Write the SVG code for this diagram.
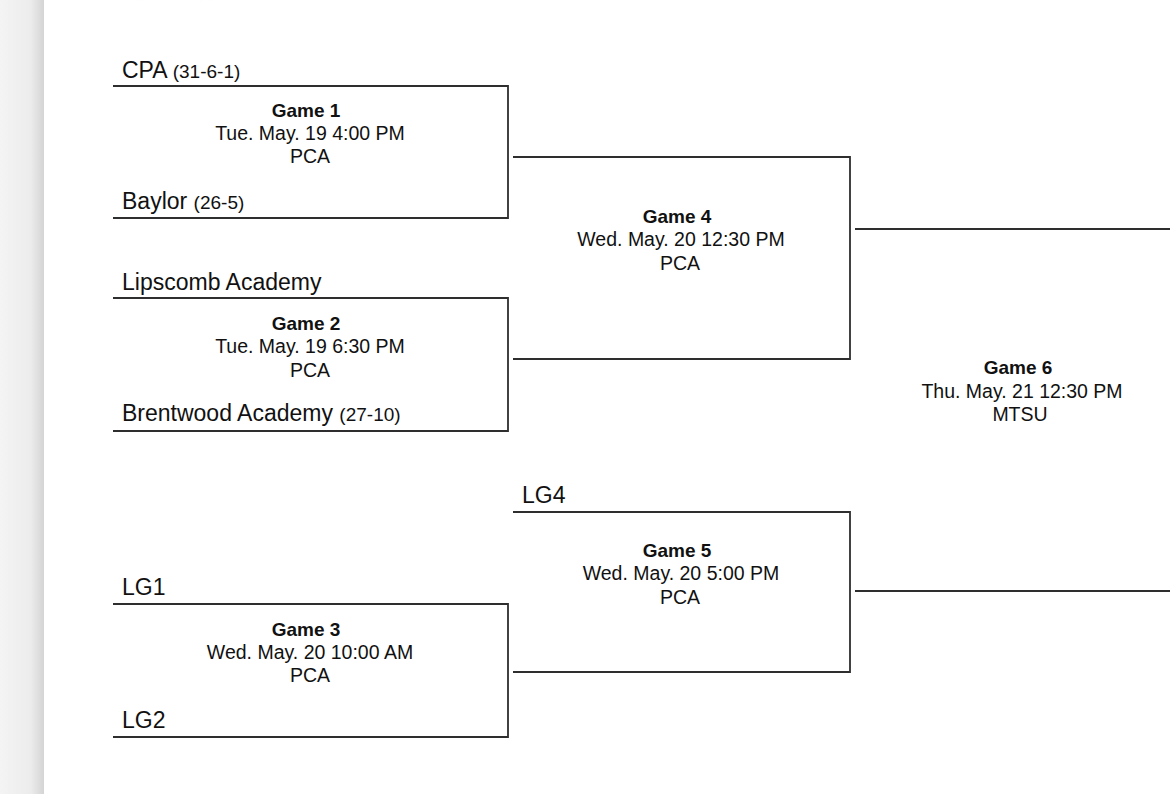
<svg xmlns="http://www.w3.org/2000/svg" width="1170" height="794" viewBox="0 0 1170 794">
<defs>
<linearGradient id="shadow" x1="0" y1="0" x2="1" y2="0">
<stop offset="0" stop-color="#f4f4f4"/>
<stop offset="0.7" stop-color="#ececec"/>
<stop offset="1" stop-color="#d4d4d4"/>
</linearGradient>
<radialGradient id="blob" cx="0.5" cy="0" r="0.6">
<stop offset="0" stop-color="#f2f2f2"/>
<stop offset="1" stop-color="#ffffff" stop-opacity="0"/>
</radialGradient>
</defs>
<style>
.ln{fill:none;stroke:#2e2e2e;stroke-width:1.8}
.team{font-family:"Liberation Sans",Arial,sans-serif;font-size:23px;fill:#111}
.rec{font-size:19px}
.g{font-family:"Liberation Sans",Arial,sans-serif;font-size:19.5px;fill:#111;text-anchor:middle}
.gb{font-weight:bold;font-size:19px}
</style>
<rect width="1170" height="794" fill="#ffffff"/>
<rect x="0" y="0" width="44" height="794" fill="url(#shadow)"/>
<ellipse cx="170" cy="0" rx="140" ry="45" fill="url(#blob)"/>
<g id="connectors">
<path class="ln" d="M113,86 H508 V218 H113"/>
<path class="ln" d="M113,298 H508 V431 H113"/>
<path class="ln" d="M113,604 H508 V737 H113"/>
<path class="ln" d="M513,157 H850 V359 H513"/>
<path class="ln" d="M513,512 H850 V672 H513"/>
<path class="ln" d="M855,229 H1170"/>
<path class="ln" d="M855,591 H1170"/>
</g>
<g id="team-cpa"><text class="team" x="122" y="78">CPA <tspan class="rec">(31-6-1)</tspan></text></g>
<g id="team-baylor"><text class="team" x="122" y="209">Baylor <tspan class="rec">(26-5)</tspan></text></g>
<g id="team-lipscomb"><text class="team" x="122" y="290">Lipscomb Academy</text></g>
<g id="team-brentwood"><text class="team" x="122" y="421">Brentwood Academy <tspan class="rec">(27-10)</tspan></text></g>
<g id="team-lg1"><text class="team" x="122" y="595">LG1</text></g>
<g id="team-lg2"><text class="team" x="122" y="728">LG2</text></g>
<g id="team-lg4"><text class="team" x="522" y="503">LG4</text></g>
<g id="game1">
<text class="g gb" x="306" y="117">Game 1</text>
<text class="g" x="310" y="140">Tue. May. 19 4:00 PM</text>
<text class="g" x="310" y="163">PCA</text>
</g>
<g id="game2">
<text class="g gb" x="306" y="330">Game 2</text>
<text class="g" x="310" y="353">Tue. May. 19 6:30 PM</text>
<text class="g" x="310" y="377">PCA</text>
</g>
<g id="game3">
<text class="g gb" x="306" y="636">Game 3</text>
<text class="g" x="310" y="659">Wed. May. 20 10:00 AM</text>
<text class="g" x="310" y="682">PCA</text>
</g>
<g id="game4">
<text class="g gb" x="677" y="223">Game 4</text>
<text class="g" x="681" y="246">Wed. May. 20 12:30 PM</text>
<text class="g" x="680" y="270">PCA</text>
</g>
<g id="game5">
<text class="g gb" x="677" y="557">Game 5</text>
<text class="g" x="681" y="580">Wed. May. 20 5:00 PM</text>
<text class="g" x="680" y="604">PCA</text>
</g>
<g id="game6">
<text class="g gb" x="1018" y="374">Game 6</text>
<text class="g" x="1022" y="398">Thu. May. 21 12:30 PM</text>
<text class="g" x="1020" y="421">MTSU</text>
</g>
</svg>
